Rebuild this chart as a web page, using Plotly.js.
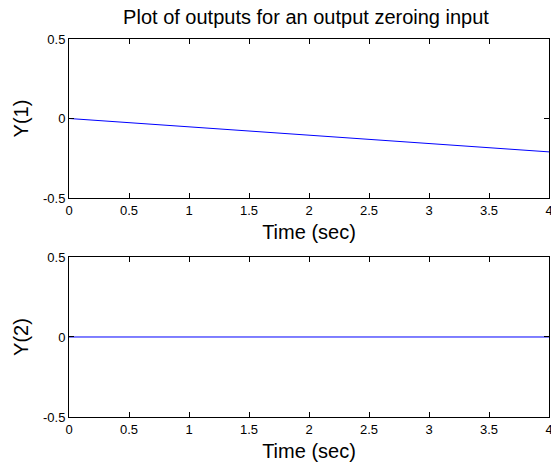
<!DOCTYPE html>
<html>
<head>
<meta charset="utf-8">
<script src="https://cdn.plot.ly/plotly-3.0.1.min.js"></script>
<style>html,body{margin:0;padding:0;background:#fff;}#chart{width:551px;height:465px;}</style>
</head>
<body>
<div id="chart"></div>
<script>
const time = [0, 0.5, 1, 1.5, 2, 2.5, 3, 3.5, 4];
const y1Values = [0, -0.026, -0.053, -0.079, -0.105, -0.131, -0.158, -0.184, -0.21];
const y2Values = [0, 0, 0, 0, 0, 0, 0, 0, 0];
const xTicks = [0, 0.5, 1, 1.5, 2, 2.5, 3, 3.5, 4];
const xTickLabels = ['0', '0.5', '1', '1.5', '2', '2.5', '3', '3.5', '4'];
const yTicks = [-0.5, 0, 0.5];
const yTickLabels = ['-0.5', '0', '0.5'];

const font = 'Liberation Sans, Arial, sans-serif';
const traces = [
  {x: time, y: y1Values, type: 'scatter', mode: 'lines', line: {color: '#0000ff', width: 1}, xaxis: 'x', yaxis: 'y', hoverinfo: 'skip'},
  {x: time, y: y2Values, type: 'scatter', mode: 'lines', line: {color: '#0000ff', width: 1}, xaxis: 'x2', yaxis: 'y2', hoverinfo: 'skip'}
];
function xa(anchor) {
  return {
    anchor: anchor, domain: [0, 1], range: [0, 4], tickvals: xTicks, ticktext: xTickLabels,
    ticks: 'inside', ticklen: 5, tickcolor: '#000', showline: true, linecolor: '#000', linewidth: 1,
    mirror: 'ticks', showgrid: false, zeroline: false, ticklabeloverflow: 'allow',
    tickfont: {family: font, size: 13, color: '#000'},
    title: {text: 'Time (sec)', font: {family: font, size: 20, color: '#000'}, standoff: 8}
  };
}
function ya(anchor, domain, title) {
  return {
    anchor: anchor, domain: domain, range: [-0.5, 0.5], tickvals: yTicks, ticktext: yTickLabels,
    ticks: 'inside', ticklen: 5, tickcolor: '#000', showline: true, linecolor: '#000', linewidth: 1,
    mirror: 'ticks', showgrid: false, zeroline: false, ticklabeloverflow: 'allow',
    tickfont: {family: font, size: 13, color: '#000'},
    title: {text: title, font: {family: font, size: 20, color: '#000'}, standoff: 8}
  };
}
const layout = {
  width: 551, height: 465,
  margin: {l: 69, r: 2, t: 39, b: 48},
  paper_bgcolor: '#fff', plot_bgcolor: '#fff',
  showlegend: false,
  title: {text: 'Plot of outputs for an output zeroing input', font: {family: font, size: 20, color: '#000'}, x: 0.5554, xanchor: 'center', y: 0.964, yanchor: 'middle'},
  xaxis: xa('y'),
  yaxis: ya('x', [0.5794, 1], 'Y(1)'),
  xaxis2: xa('y2'),
  yaxis2: ya('x2', [0, 0.4233], 'Y(2)')
};
Plotly.newPlot('chart', traces, layout, {displayModeBar: false, staticPlot: true});
</script>
</body>
</html>
